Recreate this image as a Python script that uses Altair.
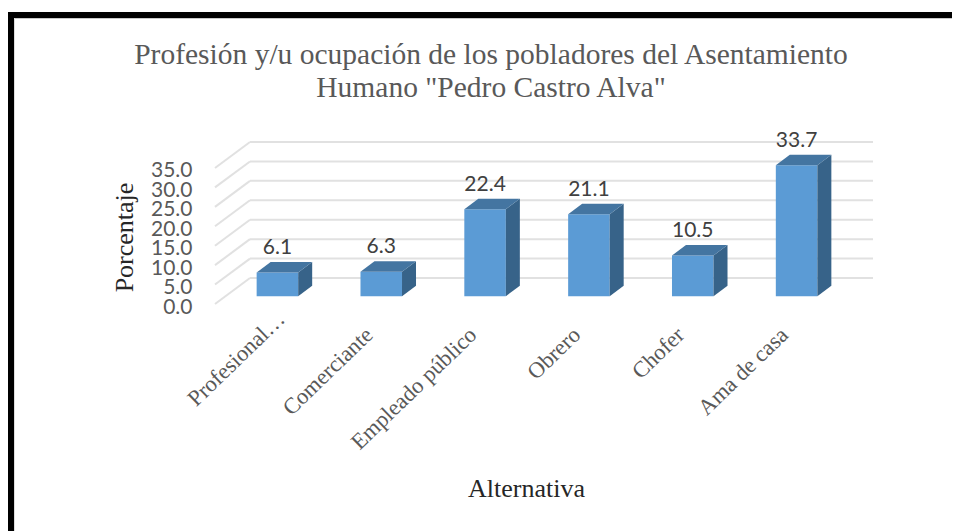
import altair as alt
import pandas as pd

categories = ["Profesional…", "Comerciante", "Empleado público", "Obrero", "Chofer", "Ama de casa"]
values = [6.1, 6.3, 22.4, 21.1, 10.5, 33.7]
ticks = [0, 5, 10, 15, 20, 25, 30, 35]

# oblique projection of the depth axis, in axis units
SHEAR_X = 0.337
SHEAR_Y = 6.69
D0, D1 = 0.3, 0.7
BAR = 0.4

TITLE_FONT = "Liberation Serif"
NUM_FONT = "Lato"

rows_front, rows_side, rows_top, rows_lab = [], [], [], []
for i, (c, v) in enumerate(zip(categories, values)):
    l = i + 0.5 - BAR / 2
    r = l + BAR
    fx, fy = D0 * SHEAR_X, D0 * SHEAR_Y
    bx, by = D1 * SHEAR_X, D1 * SHEAR_Y
    rows_front.append(dict(x=l + fx, x2=r + fx, y=fy, y2=v + fy))
    rows_side += [dict(i=i, x=r + fx, y=v + fy, y2=fy), dict(i=i, x=r + bx, y=v + by, y2=by)]
    rows_top += [dict(i=i, y=v + fy, x=l + fx, x2=r + fx), dict(i=i, y=v + by, x=l + bx, x2=r + bx)]
    rows_lab.append(dict(x=(l + r) / 2 + fx, y=v + by, t=f"{v:.1f}"))

back = pd.DataFrame([dict(x=SHEAR_X, x2=6 + SHEAR_X, y=t + SHEAR_Y) for t in ticks])
wall = pd.DataFrame([r for t in ticks for r in (dict(t=t, x=0, y=t), dict(t=t, x=SHEAR_X, y=t + SHEAR_Y))])

xs = alt.Scale(domain=[0, 6 + SHEAR_X], nice=False, zero=False)
ys = alt.Scale(domain=[0, 35 + SHEAR_Y], nice=False, zero=False)

label_expr = "[" + ",".join(f"'{c}'" for c in categories) + "][floor(datum.value)]"

X = alt.X("x:Q", scale=xs, title="Alternativa", axis=alt.Axis(
    values=[i + 0.5 for i in range(6)], labelExpr=label_expr, labelAngle=-44,
    labelAlign="right", labelBaseline="middle", labelFont=TITLE_FONT, labelFontSize=22.5,
    labelColor="#595959",
    labelPadding={"condition": {"test": "datum.value < 1", "value": 11}, "value": 27},
    labelOffset={"condition": {"test": "datum.value < 1", "value": 14}, "value": -2},
    labelOverlap=False, labelBound=False, labelFlush=False,
    domain=False, ticks=False, grid=False,
    titleFont=TITLE_FONT, titleFontSize=26, titleFontWeight="normal", titleColor="#262626",
    titleX=311, titleY=192, titleBaseline="alphabetic"))
Y = alt.Y("y:Q", scale=ys, title="Porcentaje", axis=alt.Axis(
    values=ticks, format=".1f", labelFont=NUM_FONT, labelFontSize=21, labelColor="#595959",
    labelPadding=23, labelOffset=3, labelOverlap=False, labelBound=False, labelFlush=False,
    domain=False, ticks=False, grid=False,
    titleFont=TITLE_FONT, titleFontSize=26, titleFontWeight="normal", titleColor="#262626",
    titleX=-83, titleY=95, titleAngle=-90, titleBaseline="alphabetic"))

back_lines = alt.Chart(back).mark_rule(color="#E1E1E1", strokeWidth=2).encode(x=X, x2="x2:Q", y=Y)
wall_lines = alt.Chart(wall).mark_line(color="#E1E1E1", strokeWidth=2).encode(x=X, y=Y, detail="t:N")

front = alt.Chart(pd.DataFrame(rows_front)).mark_rect(color="#5B9BD5").encode(x=X, x2="x2:Q", y=Y, y2="y2:Q")
side = alt.Chart(pd.DataFrame(rows_side)).mark_area(color="#376389", orient="vertical").encode(
    x=X, y=Y, y2="y2:Q", detail="i:N")
top = alt.Chart(pd.DataFrame(rows_top)).mark_area(color="#4475A1", orient="horizontal").encode(
    y=Y, x=X, x2="x2:Q", detail="i:N")
labels = alt.Chart(pd.DataFrame(rows_lab)).mark_text(
    font=NUM_FONT, fontSize=21, color="#404040", baseline="alphabetic", dy=-8
).encode(x=X, y=Y, text="t:N")

one = pd.DataFrame(dict(a=[0]))
border_top = alt.Chart(one).mark_rule(color="#000000", strokeWidth=6).encode(
    x=alt.value(-207), x2=alt.value(737), y=alt.value(-127))
border_left = alt.Chart(one).mark_rule(color="#000000", strokeWidth=6).encode(
    y=alt.value(-130), y2=alt.value(389), x=alt.value(-204))
edge_top = alt.Chart(one).mark_rule(color="#C8C8C8", strokeWidth=1).encode(
    x=alt.value(-201), x2=alt.value(737), y=alt.value(-123.5))
edge_left = alt.Chart(one).mark_rule(color="#DDDDDD", strokeWidth=1).encode(
    y=alt.value(-124), y2=alt.value(389), x=alt.value(-200.5))

chart = alt.layer(
    back_lines, wall_lines, front, side, top, labels, border_top, border_left, edge_top, edge_left
).properties(
    width=658, height=162,
    padding=dict(left=207, top=134, right=79, bottom=227),
    autosize=alt.AutoSizeParams(type="none"),
    background="#FFFFFF",
    title=alt.TitleParams(
        text=['Profesión y/u ocupación de los pobladores del Asentamiento', 'Humano "Pedro Castro Alva"'],
        font=TITLE_FONT, fontSize=29.5, fontWeight="normal", color="#595959", lineHeight=33,
        anchor="middle", frame="group", dx=-53, offset=-94,
    ),
).configure_view(stroke=None)

chart.save("out.html", embed_options={"renderer": "svg", "actions": False})
